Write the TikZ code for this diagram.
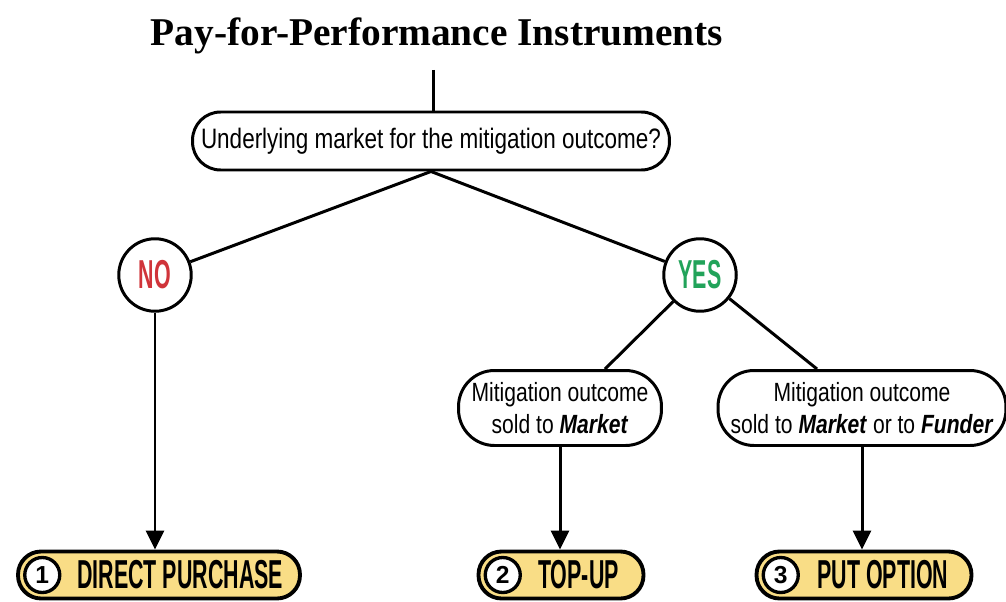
\documentclass[tikz,border=0pt]{standalone}
\usepackage{fontspec}
\setmainfont{Liberation Serif}
\setsansfont{Liberation Sans}
\newfontfamily\narrowsans[FakeStretch=0.8]{Liberation Sans}
\newfontfamily\gothicsans[FakeStretch=0.53]{Liberation Sans}
\usepackage{tikz}
\usetikzlibrary{arrows.meta,positioning}
\definecolor{answerno}{HTML}{D0343A}
\definecolor{answeryes}{HTML}{22A35A}
\definecolor{instrumentfill}{HTML}{F9DD86}
\tikzset{
  heading/.style={
    font=\bfseries\fontsize{22.4}{24}\selectfont
  },
  question/.style={
    rectangle,
    rounded corners=0.56cm,
    draw=black,
    line width=1.7pt,
    fill=white,
    minimum height=1.16cm,
    inner xsep=0pt,
    align=center,
    font=\narrowsans\fontsize{16}{18}\selectfont
  },
  outcome/.style={
    rectangle,
    rounded corners=0.72cm,
    draw=black,
    line width=1.7pt,
    fill=white,
    minimum height=1.5cm,
    inner xsep=0pt,
    align=center,
    font=\narrowsans\fontsize{15}{18}\selectfont
  },
  answer/.style={
    circle,
    draw=black,
    line width=1.7pt,
    fill=white,
    minimum size=1.45cm,
    inner sep=0pt,
    font=\gothicsans\bfseries\fontsize{23}{23}\selectfont
  },
  instrument/.style={
    rectangle,
    rounded corners=0.46cm,
    draw=black,
    line width=2.2pt,
    fill=instrumentfill,
    minimum height=0.94cm,
    inner xsep=0pt,
    font=\gothicsans\bfseries\fontsize{23}{23}\selectfont
  },
  numdot/.style={
    circle,
    draw=black,
    line width=1.9pt,
    fill=white,
    minimum size=0.7cm,
    inner sep=0pt,
    font=\sffamily\bfseries\fontsize{14}{14}\selectfont
  },
  branch/.style={line width=1.7pt,draw=black},
  arrow/.style={branch,-{Triangle[length=3.8mm,width=3.6mm]}}
}
\begin{document}
\begin{tikzpicture}[x=0.02cm,y=-0.02cm]
  \useasboundingbox (0,0) rectangle (1006,601);

  \node[heading] (title) at (437,36) {Pay-for-Performance Instruments};

  \node[question, minimum width=9.54cm] (market) at (431,141)
    {Underlying market for the mitigation outcome?};
  \coordinate (stem) at (433,70);

  \node[answer, text=answerno] (no) at (155,275) {NO};
  \node[answer, text=answeryes] (yes) at (700,275) {YES};

  \node[outcome, minimum width=4.06cm] (toMarket) at (560,408)
    {Mitigation outcome\\sold to \textbf{\textit{Market}}};
  \node[outcome, minimum width=5.76cm] (toFunder) at (862,408)
    {Mitigation outcome\\sold to \textbf{\textit{Market}} or to \textbf{\textit{Funder}}};

  \node[instrument, minimum width=5.64cm] (purchase) at (159,575)
    {\hspace*{0.85cm}DIRECT PURCHASE};
  \node[instrument, minimum width=3.3cm] (topUp) at (561,575)
    {\hspace*{0.7cm}TOP-UP};
  \node[instrument, minimum width=4.3cm] (putOption) at (864,575)
    {\hspace*{0.75cm}PUT OPTION};

  \node[numdot, right=0.14cm of purchase.west] (one) {1};
  \node[numdot, right=0.14cm of topUp.west] (two) {2};
  \node[numdot, right=0.14cm of putOption.west] (three) {3};

  \draw[branch] (stem) -- (stem |- market.north);
  \draw[branch] (market.south) -- (no);
  \draw[branch] (market.south) -- (yes);
  \draw[branch] (yes) -- ([xshift=0.9cm]toMarket.north);
  \draw[branch] (yes) -- ([xshift=-0.9cm]toFunder.north);

  \draw[arrow] (no) -- (no |- purchase.north);
  \draw[arrow] (toMarket) -- (toMarket |- topUp.north);
  \draw[arrow] (toFunder) -- (toFunder |- putOption.north);
\end{tikzpicture}
\end{document}
